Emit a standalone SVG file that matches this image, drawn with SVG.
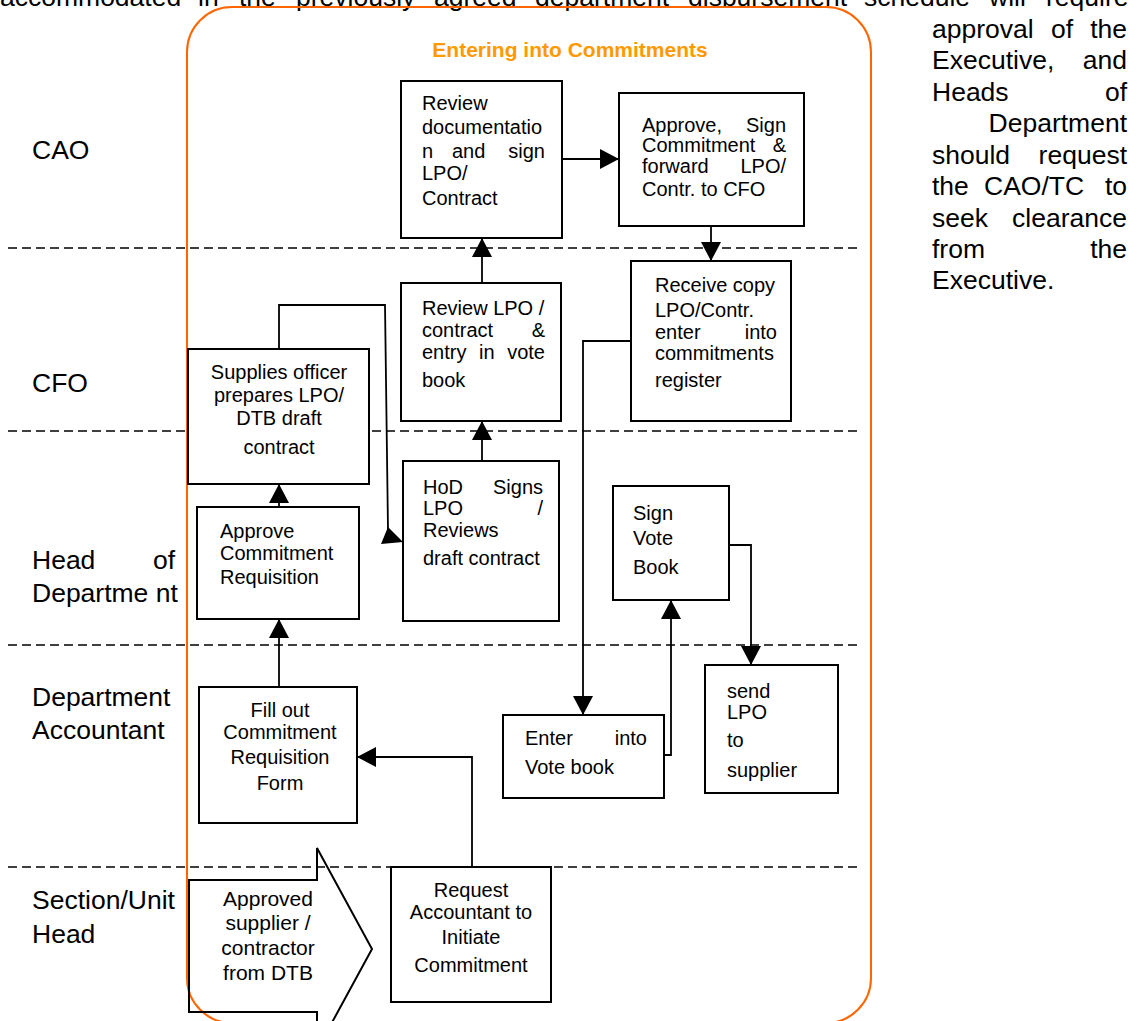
<svg xmlns="http://www.w3.org/2000/svg" width="1138" height="1021" viewBox="0 0 1138 1021">
<defs>
<style>
.t{font-family:"Liberation Sans",Arial,sans-serif;font-size:20px;fill:#000}
.c{text-anchor:middle}
.e{text-anchor:end}
.lane{font-family:"Liberation Sans",Arial,sans-serif;font-size:26.5px;fill:#000}
.para{font-family:"Liberation Sans",Arial,sans-serif;font-size:26.5px;fill:#000}
.box{fill:#fff;stroke:#000;stroke-width:2}
.dash{stroke:#000;stroke-width:1.6;stroke-dasharray:9 5;fill:none}
.conn{fill:none;stroke:#000;stroke-width:1.8}
.title{font-family:"Liberation Sans",Arial,sans-serif;font-size:21px;font-weight:bold;fill:#FF9900;text-anchor:middle}
</style>
<marker id="ah" markerUnits="userSpaceOnUse" markerWidth="19" markerHeight="20" refX="19" refY="10" orient="auto">
<path d="M0,0 L19,10 L0,20 Z" fill="#000"/>
</marker>
</defs>
<rect width="1138" height="1021" fill="#fff"/>

<g id="paragraph">
<text class="para" y="6"><tspan x="0">accommodated</tspan><tspan x="198">in</tspan><tspan x="239">the</tspan><tspan x="296">previously</tspan><tspan x="434">agreed</tspan><tspan x="535">department</tspan><tspan x="688">disbursement</tspan><tspan x="864">schedule</tspan><tspan x="989">will</tspan><tspan x="1046">require</tspan></text>
<text class="para" x="932" y="38">approval</text><text class="para" x="1051" y="38">of</text><text class="para e" x="1127" y="38">the</text>
<text class="para" x="932" y="69">Executive,</text><text class="para e" x="1127" y="69">and</text>
<text class="para" x="932" y="101">Heads</text><text class="para e" x="1127" y="101">of</text>
<text class="para e" x="1127" y="132">Department</text>
<text class="para" x="932" y="164">should</text><text class="para e" x="1127" y="164">request</text>
<text class="para" x="932" y="195">the</text><text class="para" x="984" y="195">CAO/TC</text><text class="para e" x="1127" y="195">to</text>
<text class="para" x="932" y="227">seek</text><text class="para e" x="1127" y="227">clearance</text>
<text class="para" x="932" y="258">from</text><text class="para e" x="1127" y="258">the</text>
<text class="para" x="932" y="289">Executive.</text>
</g>

<g id="lanes">
<path class="dash" d="M8,248 H858 M8,431 H858 M8,645 H858 M8,867 H858"/>
<text class="lane" x="32" y="159">CAO</text>
<text class="lane" x="32" y="392">CFO</text>
<text class="lane" x="32" y="569">Head</text><text class="lane e" x="175" y="569">of</text>
<text class="lane" x="32" y="602">Departme nt</text>
<text class="lane" x="32" y="706">Department</text>
<text class="lane" x="32" y="739">Accountant</text>
<text class="lane" x="32" y="909">Section/Unit</text>
<text class="lane" x="32" y="943">Head</text>
</g>

<g id="frame">
<rect x="187" y="7" width="684" height="1016" rx="45" ry="45" fill="none" stroke="#FF6600" stroke-width="2"/>
<text class="title" x="570" y="57">Entering into Commitments</text>
</g>

<g id="connectors">
<path class="conn" d="M562,159 H619" marker-end="url(#ah)"/>
<path class="conn" d="M711,226 V261" marker-end="url(#ah)"/>
<path class="conn" d="M482,283 V238" marker-end="url(#ah)"/>
<path class="conn" d="M482,461 V421" marker-end="url(#ah)"/>
<path class="conn" d="M279,507 V484" marker-end="url(#ah)"/>
<path class="conn" d="M279,687 V619" marker-end="url(#ah)"/>
<path class="conn" d="M472,867 V757 H357" marker-end="url(#ah)"/>
<path class="conn" d="M279,349 V305 H385 L388,530"/>
<polygon points="388,527 381,544 403,542" fill="#000"/>
<path class="conn" d="M631,341 H583 V715" marker-end="url(#ah)"/>
<path class="conn" d="M664,755 H671 V600" marker-end="url(#ah)"/>
<path class="conn" d="M729,545 H751 V665" marker-end="url(#ah)"/>
</g>

<g id="n-review-doc">
<rect class="box" x="401" y="81" width="161" height="157"/>
<text class="t" x="422" y="110">Review</text>
<text class="t" x="422" y="134">documentatio</text>
<text class="t" x="422" y="158">n</text><text class="t" x="452" y="158">and</text><text class="t e" x="545" y="158">sign</text>
<text class="t" x="422" y="180">LPO/</text>
<text class="t" x="422" y="205">Contract</text>
</g>

<g id="n-approve-sign">
<rect class="box" x="619" y="93" width="185" height="133"/>
<text class="t" x="642" y="132">Approve,</text><text class="t e" x="786" y="132">Sign</text>
<text class="t" x="642" y="152">Commitment</text><text class="t e" x="786" y="152">&amp;</text>
<text class="t" x="642" y="173">forward</text><text class="t e" x="786" y="173">LPO/</text>
<text class="t" x="642" y="196">Contr. to CFO</text>
</g>

<g id="n-receive">
<rect class="box" x="631" y="261" width="160" height="160"/>
<text class="t" x="655" y="292">Receive copy</text>
<text class="t" x="655" y="317">LPO/Contr.</text>
<text class="t" x="655" y="339">enter</text><text class="t e" x="777" y="339">into</text>
<text class="t" x="655" y="360">commitments</text>
<text class="t" x="655" y="387">register</text>
</g>

<g id="n-review-lpo">
<rect class="box" x="401" y="283" width="160" height="138"/>
<text class="t" x="422" y="315">Review LPO /</text>
<text class="t" x="422" y="337">contract</text><text class="t e" x="545" y="337">&amp;</text>
<text class="t" x="422" y="359">entry</text><text class="t" x="479" y="359">in</text><text class="t e" x="545" y="359">vote</text>
<text class="t" x="422" y="387">book</text>
</g>

<g id="n-supplies">
<rect class="box" x="188" y="349" width="181" height="135"/>
<text class="t c" x="279" y="379">Supplies officer</text>
<text class="t c" x="279" y="402">prepares LPO/</text>
<text class="t c" x="279" y="425">DTB draft</text>
<text class="t c" x="279" y="454">contract</text>
</g>

<g id="n-hod">
<rect class="box" x="403" y="461" width="156" height="160"/>
<text class="t" x="423" y="494">HoD</text><text class="t e" x="543" y="494">Signs</text>
<text class="t" x="423" y="515">LPO</text><text class="t e" x="543" y="515">/</text>
<text class="t" x="423" y="537">Reviews</text>
<text class="t" x="423" y="565">draft contract</text>
</g>

<g id="n-approve-req">
<rect class="box" x="197" y="507" width="162" height="112"/>
<text class="t" x="220" y="538">Approve</text>
<text class="t" x="220" y="560">Commitment</text>
<text class="t" x="220" y="584">Requisition</text>
</g>

<g id="n-sign-vote">
<rect class="box" x="613" y="486" width="116" height="114"/>
<text class="t" x="633" y="520">Sign</text>
<text class="t" x="633" y="545">Vote</text>
<text class="t" x="633" y="574">Book</text>
</g>

<g id="n-fill-out">
<rect class="box" x="199" y="687" width="158" height="136"/>
<text class="t c" x="280" y="717">Fill out</text>
<text class="t c" x="280" y="739">Commitment</text>
<text class="t c" x="280" y="764">Requisition</text>
<text class="t c" x="280" y="790">Form</text>
</g>

<g id="n-enter-vote">
<rect class="box" x="503" y="715" width="161" height="83"/>
<text class="t" x="525" y="745">Enter</text><text class="t e" x="647" y="745">into</text>
<text class="t" x="525" y="774">Vote book</text>
</g>

<g id="n-send-lpo">
<rect class="box" x="705" y="665" width="133" height="128"/>
<text class="t" x="727" y="698">send</text>
<text class="t" x="727" y="719">LPO</text>
<text class="t" x="727" y="747">to</text>
<text class="t" x="727" y="777">supplier</text>
</g>

<g id="n-request">
<rect class="box" x="391" y="867" width="160" height="135"/>
<text class="t c" x="471" y="897">Request</text>
<text class="t c" x="471" y="919">Accountant to</text>
<text class="t c" x="471" y="944">Initiate</text>
<text class="t c" x="471" y="972">Commitment</text>
</g>

<g id="n-approved-supplier">
<path d="M189,880 H317 V848 L372,949 L317,1050 V1012 H189 Z" fill="none" stroke="#000" stroke-width="2"/>
<text class="t c" x="268" y="906" style="font-size:21px">Approved</text>
<text class="t c" x="268" y="930" style="font-size:21px">supplier /</text>
<text class="t c" x="268" y="955" style="font-size:21px">contractor</text>
<text class="t c" x="268" y="980" style="font-size:21px">from DTB</text>
</g>
</svg>
